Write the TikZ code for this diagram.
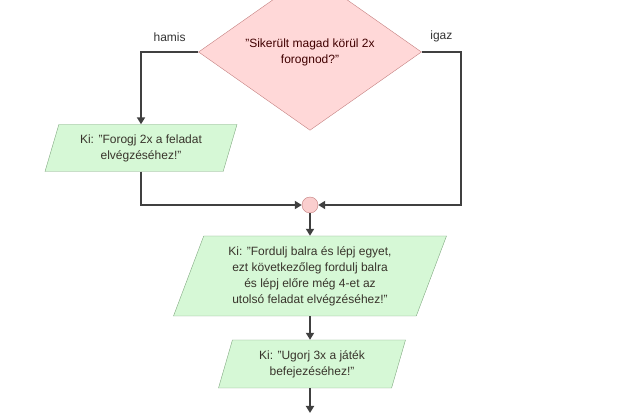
\documentclass[tikz,border=0pt]{standalone}
\usepackage{fontspec}
\setmainfont{Liberation Sans}
\usepackage{xcolor}
\definecolor{decfill}{RGB}{255, 216, 216}
\definecolor{decline}{RGB}{196, 128, 128}
\definecolor{joinfill}{RGB}{250, 206, 206}
\definecolor{outfill}{RGB}{214, 248, 214}
\definecolor{outline}{RGB}{128, 168, 128}
\definecolor{flowline}{RGB}{64, 64, 64}
\usepackage{tikz}
\usetikzlibrary{shapes.geometric,arrows.meta,positioning,calc}

\begin{document}
\begin{tikzpicture}[
    x=1pt, y=-1pt,
    font=\fontsize{12}{16}\selectfont,
    decision/.style={diamond, draw=decline, fill=decfill, text=black!75!red, inner sep=0pt, minimum width=223pt, minimum height=112pt, align=center},
    output/.style={trapezium, trapezium left angle=63, trapezium right angle=117, trapezium stretches body, draw=outline, fill=outfill, text=black!80!olive, inner sep=0pt, align=center},
    joint/.style={circle, draw=decline, fill=joinfill, minimum size=16pt, inner sep=0pt},
    lbl/.style={text=black!80, inner sep=0pt},
    arrow/.style={-{Triangle[length=7pt, width=8pt]}, draw=flowline, line width=2pt}
]
\useasboundingbox (0,0) rectangle (638,414);
\clip (0,0) rectangle (638,414);

\node[decision] (dec) at (310,52) {"Sikerült magad körül 2x\\forognod?"};
\node[output, minimum width=192pt, minimum height=47pt] (spin) at (141,148) {Ki: "Forogj 2x a feladat\\elvégzéséhez!"};
\node[joint] (join) at (310,205) {};
\node[output, minimum width=273pt, minimum height=80pt] (turn) at (310,276) {Ki: "Fordulj balra és lépj egyet,\\ezt következőleg fordulj balra\\és lépj előre még 4-et az\\utolsó feladat elvégzéséhez!"};
\node[output, minimum width=187pt, minimum height=48pt] (jump) at (312,364) {Ki: "Ugorj 3x a játék\\befejezéséhez!"};
\coordinate (rturn) at (461,205);
\coordinate (next) at (310,413);

\draw[arrow] (dec.west) -| node[lbl, pos=0.25, above=9pt] {hamis} (spin.north);
\draw[arrow] (dec.east) -| node[lbl, pos=0.25, above=9pt] {igaz} (rturn) -- (join);
\draw[arrow] (spin.south) |- (join);
\draw[arrow] (join) -- (turn);
\draw[arrow] (turn.south) -- (turn.south |- jump.north);
\draw[arrow] (jump.south -| next) -- (next);

\end{tikzpicture}
\end{document}
